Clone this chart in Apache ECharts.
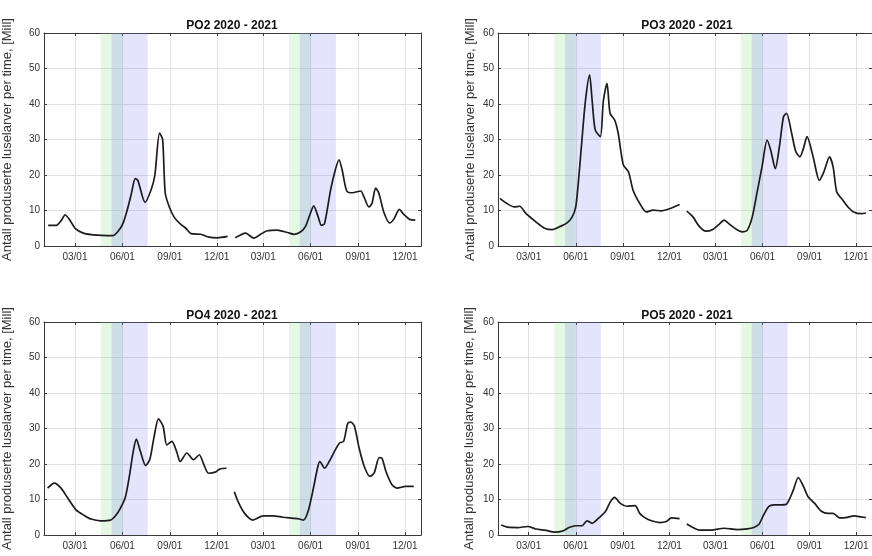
<!DOCTYPE html>
<html><head><meta charset="utf-8">
<script src="https://cdn.jsdelivr.net/npm/echarts@6/dist/echarts.min.js"></script>
<style>html,body{margin:0;padding:0;background:#fff}#c{width:872px;height:556px}</style>
</head><body><div id="c"></div>
<script>
const titles = ['PO2 2020 - 2021', 'PO3 2020 - 2021', 'PO4 2020 - 2021', 'PO5 2020 - 2021'];
const yName = 'Antall produserte luselarver per time, [Mill]';
const xTickDates = ['2020-03-01','2020-06-01','2020-09-01','2020-12-01','2021-03-01','2021-06-01','2021-09-01','2021-12-01'];
const xMin = '2020-01-01', xMax = '2022-01-01';
const greenBands = [['2020-04-20','2020-06-01'], ['2021-04-20','2021-06-01']];
const blueBands = [['2020-05-11','2020-07-20'], ['2021-05-11','2021-07-20']];

// PO2
const po2Dates2020 = ['2020-01-09','2020-01-25','2020-02-04','2020-02-11','2020-02-20','2020-03-02','2020-03-16','2020-04-02','2020-04-21','2020-05-13','2020-05-23','2020-06-02','2020-06-11','2020-06-18','2020-06-26','2020-07-01','2020-07-15','2020-07-27','2020-08-03','2020-08-12','2020-08-18','2020-08-23','2020-08-31','2020-09-10','2020-09-23','2020-10-02','2020-10-12','2020-10-31','2020-11-16','2020-12-02','2020-12-22'];
const po2Vals2020 = [5.8,5.8,7.3,8.8,7.3,4.9,3.7,3.2,3.0,2.9,4.0,6.3,10.5,14.5,19.0,18.5,12.3,16.0,20.0,31.8,30.0,15.0,11.0,8.0,6.0,5.0,3.5,3.3,2.5,2.3,2.7];
const po2Dates2021 = ['2021-01-06','2021-01-26','2021-02-11','2021-02-24','2021-03-09','2021-03-28','2021-04-17','2021-04-30','2021-05-13','2021-05-22','2021-05-31','2021-06-07','2021-06-15','2021-06-22','2021-06-28','2021-07-10','2021-07-19','2021-07-26','2021-08-01','2021-08-10','2021-08-21','2021-09-06','2021-09-12','2021-09-22','2021-09-28','2021-10-05','2021-10-11','2021-10-21','2021-11-01','2021-11-09','2021-11-20','2021-11-28','2021-12-10','2021-12-21'];
const po2Vals2021 = [2.3,3.6,2.2,3.3,4.3,4.5,3.8,3.3,4.0,5.5,9.0,11.3,8.5,5.8,6.3,16.0,21.5,24.3,21.5,15.5,15.0,15.5,14.0,11.0,12.0,16.3,15.0,9.5,6.5,7.5,10.3,9.0,7.5,7.3];

// PO3
const po3Dates2020 = ['2020-01-05','2020-01-17','2020-02-02','2020-02-12','2020-02-25','2020-03-15','2020-03-31','2020-04-16','2020-05-03','2020-05-15','2020-05-25','2020-06-01','2020-06-07','2020-06-13','2020-06-20','2020-06-28','2020-07-03','2020-07-09','2020-07-19','2020-07-25','2020-08-01','2020-08-07','2020-08-16','2020-08-23','2020-09-02','2020-09-12','2020-09-21','2020-10-04','2020-10-17','2020-10-30','2020-11-15','2020-12-01','2020-12-21'];
const po3Vals2020 = [13.4,12.1,11.0,11.2,9.1,6.8,5.1,4.6,5.6,6.5,8.2,11.0,19.5,29.8,41.0,48.2,41.0,32.7,30.8,41.0,45.8,37.4,35.5,31.7,22.8,20.9,15.7,12.0,9.6,10.1,9.9,10.5,11.7];
const po3Dates2021 = ['2021-01-04','2021-01-16','2021-01-28','2021-02-10','2021-02-23','2021-03-08','2021-03-18','2021-03-27','2021-04-09','2021-04-22','2021-05-02','2021-05-12','2021-05-21','2021-05-31','2021-06-10','2021-06-17','2021-06-26','2021-07-04','2021-07-12','2021-07-18','2021-07-28','2021-08-05','2021-08-13','2021-08-20','2021-08-27','2021-09-08','2021-09-20','2021-09-29','2021-10-10','2021-10-17','2021-10-24','2021-11-05','2021-11-15','2021-11-26','2021-12-11','2021-12-20'];
const po3Vals2021 = [9.8,8.2,5.6,4.2,4.6,6.1,7.3,6.3,4.9,4.0,4.4,8.2,14.8,22.3,29.8,27.0,21.8,28.0,36.4,37.4,31.7,26.6,25.1,27.5,30.8,25.1,18.5,20.9,25.1,22.3,15.3,12.9,11.0,9.6,9.1,9.3];

// PO4
const po4Dates2020 = ['2020-01-08','2020-01-21','2020-02-03','2020-02-16','2020-03-03','2020-03-19','2020-04-01','2020-04-20','2020-05-09','2020-05-19','2020-05-28','2020-06-07','2020-06-15','2020-06-22','2020-06-28','2020-07-06','2020-07-16','2020-07-24','2020-08-01','2020-08-10','2020-08-19','2020-08-26','2020-09-05','2020-09-15','2020-09-21','2020-10-04','2020-10-17','2020-10-28','2020-11-06','2020-11-15','2020-11-28','2020-12-07','2020-12-20'];
const po4Vals2020 = [13.2,14.6,13.2,10.4,7.1,5.5,4.5,4.0,4.2,5.5,7.5,10.8,17.0,23.5,27.0,23.5,19.6,21.2,27.3,32.7,30.6,25.4,26.4,23.1,20.7,23.1,21.2,22.6,19.8,17.4,17.7,18.6,18.8];
const po4Dates2021 = ['2021-01-04','2021-01-12','2021-01-24','2021-02-09','2021-03-01','2021-03-20','2021-04-08','2021-04-28','2021-05-10','2021-05-18','2021-05-27','2021-06-05','2021-06-15','2021-06-19','2021-06-28','2021-07-07','2021-07-17','2021-07-27','2021-08-04','2021-08-12','2021-08-18','2021-08-25','2021-09-03','2021-09-13','2021-09-24','2021-10-02','2021-10-12','2021-10-17','2021-10-25','2021-11-06','2021-11-16','2021-12-02','2021-12-18'];
const po4Vals2021 = [12.2,9.2,6.1,4.2,5.4,5.4,5.0,4.7,4.5,4.2,6.6,12.2,19.3,20.7,18.8,20.7,23.5,25.9,26.4,31.5,31.8,30.6,24.5,19.3,16.5,17.4,21.8,21.7,17.9,14.1,13.2,13.7,13.7];

// PO5
const po5Dates2020 = ['2020-01-07','2020-01-20','2020-02-09','2020-02-28','2020-03-15','2020-04-04','2020-04-20','2020-05-06','2020-05-19','2020-06-01','2020-06-13','2020-06-23','2020-07-03','2020-07-16','2020-07-29','2020-08-07','2020-08-16','2020-08-27','2020-09-09','2020-09-25','2020-10-04','2020-10-14','2020-10-27','2020-11-12','2020-11-25','2020-12-05','2020-12-21'];
const po5Vals2020 = [2.8,2.2,2.1,2.4,1.7,1.3,0.8,1.1,2.1,2.6,2.6,4.0,3.3,4.8,6.6,9.2,10.6,8.9,8.1,8.3,6.1,4.9,4.0,3.5,3.8,4.8,4.6];
const po5Dates2021 = ['2021-01-04','2021-01-16','2021-01-28','2021-02-20','2021-03-18','2021-04-13','2021-05-02','2021-05-15','2021-05-25','2021-06-03','2021-06-13','2021-06-23','2021-07-09','2021-07-18','2021-07-30','2021-08-10','2021-08-20','2021-08-29','2021-09-11','2021-09-24','2021-10-07','2021-10-17','2021-10-30','2021-11-11','2021-11-27','2021-12-11','2021-12-20'];
const po5Vals2021 = [3.1,2.1,1.4,1.4,1.9,1.5,1.7,2.1,3.0,5.6,8.0,8.5,8.5,8.7,12.2,16.2,13.7,10.8,8.9,6.7,6.1,6.1,4.8,4.9,5.4,5.1,4.9];

const panels = [
  [po2Dates2020, po2Vals2020, po2Dates2021, po2Vals2021],
  [po3Dates2020, po3Vals2020, po3Dates2021, po3Vals2021],
  [po4Dates2020, po4Vals2020, po4Dates2021, po4Vals2021],
  [po5Dates2020, po5Vals2020, po5Dates2021, po5Vals2021]
];

const grids = [
  {left: 43, top: 33, width: 378, height: 213},
  {left: 498, top: 33, width: 378, height: 213},
  {left: 43, top: 322, width: 378, height: 213},
  {left: 498, top: 322, width: 378, height: 213}
];
const titleTops = [20, 20, 310, 310];
const nameGaps = [30, 21, 30, 22];

const chart = echarts.init(document.getElementById('c'), null, {renderer: 'canvas'});
const ts = s => Date.UTC(+s.slice(0, 4), +s.slice(5, 7) - 1, +s.slice(8, 10));
const tickVals = xTickDates.map(ts);
const pad = n => (n < 10 ? '0' : '') + n;
const axisCol = '#3a3a3a';
const gridCol = '#e2e2e2';
const font = 'Liberation Sans, Arial, sans-serif';

const xAxes = [], yAxes = [], series = [], titleArr = [];
grids.forEach((g, i) => {
  titleArr.push({text: titles[i], left: g.left + g.width / 2, top: titleTops[i], textAlign: 'center', padding: 0,
    textStyle: {fontSize: 12, fontWeight: 'bold', color: '#111', fontFamily: font}});
  xAxes.push({type: 'value', gridIndex: i, min: ts(xMin), max: ts(xMax), position: 'bottom',
    axisLine: {show: true, onZero: false, lineStyle: {color: axisCol, width: 1}},
    axisTick: {show: true, inside: true, length: 3, customValues: tickVals, lineStyle: {color: axisCol}},
    axisLabel: {show: true, customValues: tickVals, margin: 6, fontSize: 10, color: '#333', fontFamily: font,
      formatter: v => { const d = new Date(v); return pad(d.getUTCMonth() + 1) + '/' + pad(d.getUTCDate()); }},
    splitLine: {show: true, lineStyle: {color: gridCol, width: 1}}
  });
  xAxes.push({type: 'value', gridIndex: i, min: ts(xMin), max: ts(xMax), position: 'top',
    axisLine: {show: true, onZero: false, lineStyle: {color: axisCol, width: 1}},
    axisTick: {show: true, inside: true, length: 3, customValues: tickVals, lineStyle: {color: axisCol}},
    axisLabel: {show: false}, splitLine: {show: false}
  });
  yAxes.push({type: 'value', gridIndex: i, min: 0, max: 60, interval: 10, position: 'left',
    name: yName, nameLocation: 'middle', nameGap: nameGaps[i],
    nameTextStyle: {fontSize: 13, color: '#333', fontFamily: font},
    axisLine: {show: true, onZero: false, lineStyle: {color: axisCol, width: 1}},
    axisTick: {show: true, inside: true, length: 3, lineStyle: {color: axisCol}},
    axisLabel: {fontSize: 10, color: '#333', margin: 4, fontFamily: font},
    splitLine: {show: true, lineStyle: {color: gridCol, width: 1}}
  });
  yAxes.push({type: 'value', gridIndex: i, min: 0, max: 60, interval: 10, position: 'right',
    axisLine: {show: true, onZero: false, lineStyle: {color: axisCol, width: 1}},
    axisTick: {show: true, inside: true, length: 3, lineStyle: {color: axisCol}},
    axisLabel: {show: false}, splitLine: {show: false}
  });
  const [d1, v1, d2, v2] = panels[i];
  const data = d1.map((d, k) => [ts(d), v1[k]]).concat([[ts('2020-12-28'), '-']]).concat(d2.map((d, k) => [ts(d), v2[k]]));
  const areas = [];
  greenBands.forEach(b => areas.push([{xAxis: ts(b[0]), itemStyle: {color: 'rgba(120,220,120,0.2)'}}, {xAxis: ts(b[1])}]));
  blueBands.forEach(b => areas.push([{xAxis: ts(b[0]), itemStyle: {color: 'rgba(120,120,240,0.2)'}}, {xAxis: ts(b[1])}]));
  series.push({type: 'line', xAxisIndex: i * 2, yAxisIndex: i * 2, data: data, showSymbol: false,
    connectNulls: false, smooth: 0.25, animation: false,
    lineStyle: {color: '#1c1c1c', width: 1.7},
    markArea: {silent: true, data: areas, label: {show: false}}
  });
});

chart.setOption({
  animation: false,
  backgroundColor: '#fff',
  title: titleArr,
  grid: grids,
  xAxis: xAxes,
  yAxis: yAxes,
  series: series
});
</script>
</body></html>
